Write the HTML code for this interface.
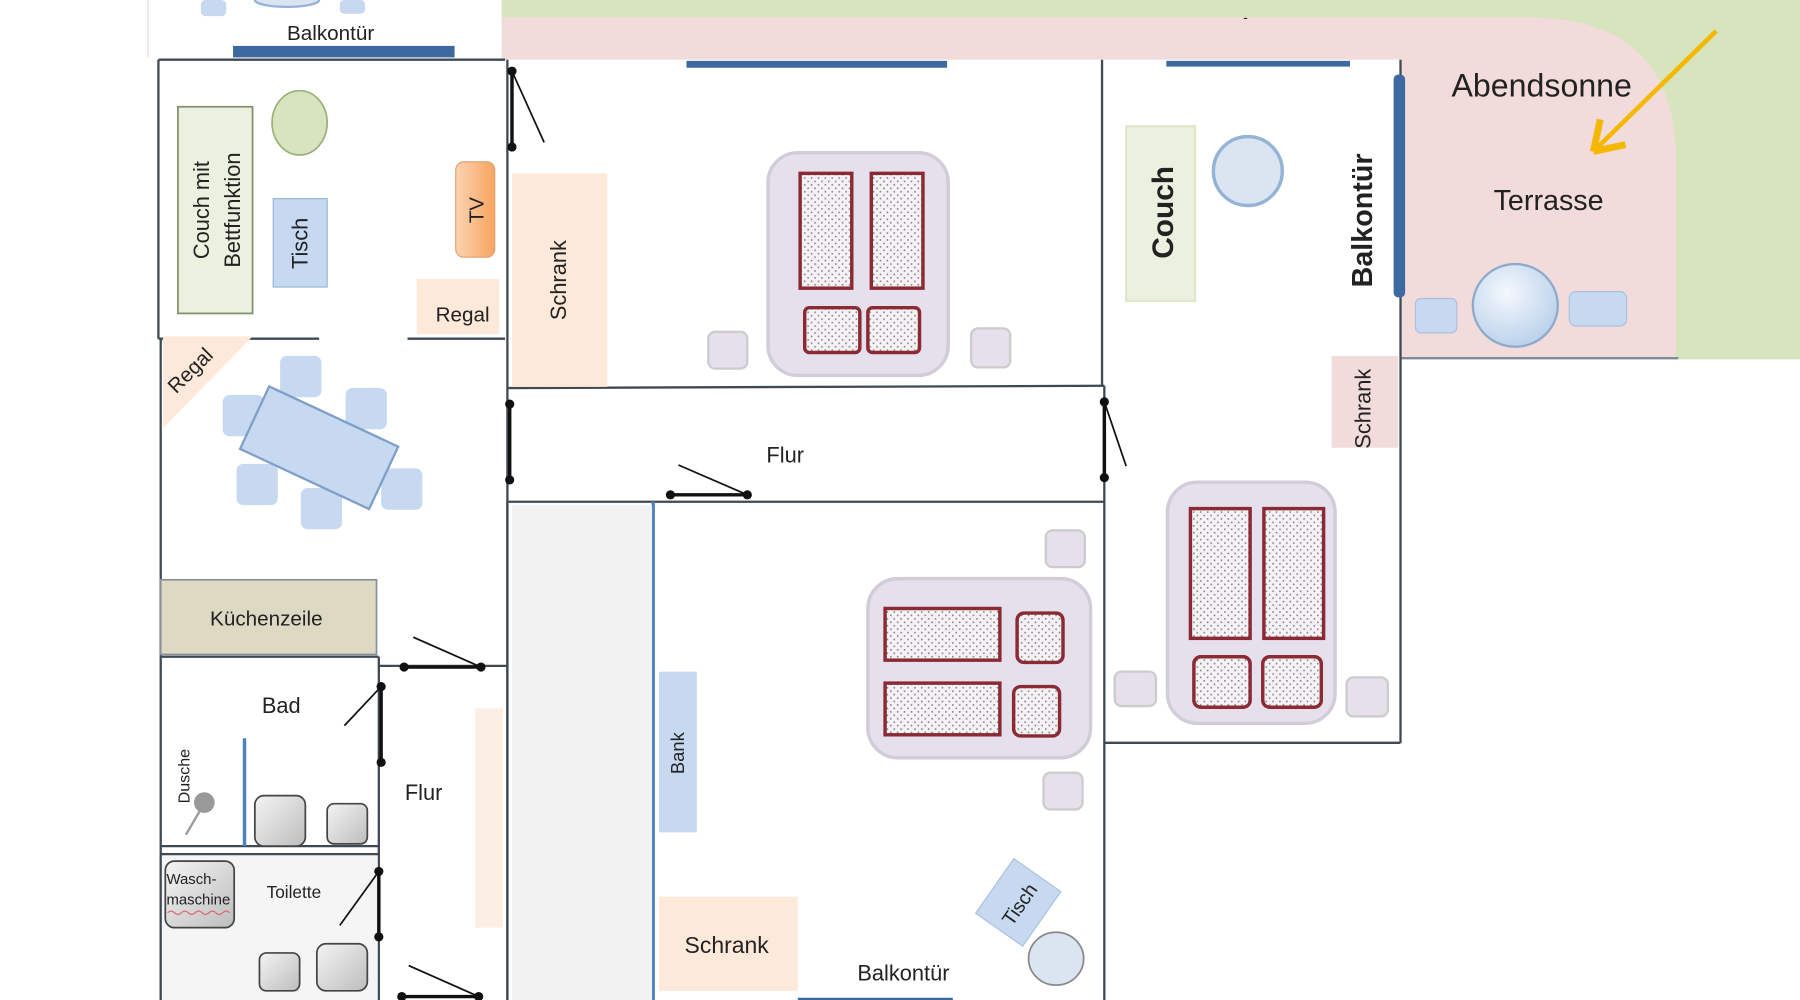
<!DOCTYPE html>
<html><head><meta charset="utf-8"><style>
html,body{margin:0;padding:0;background:#fff;}
svg{display:block;}
text{font-family:"Liberation Sans",sans-serif;fill:#222;}
</style></head><body>
<svg width="1800" height="1000" viewBox="0 0 1568 871" preserveAspectRatio="none" xmlns="http://www.w3.org/2000/svg">
<defs>
<pattern id="dots" width="6" height="6" patternUnits="userSpaceOnUse">
<rect width="6" height="6" fill="#f4f2f4"/><circle cx="2" cy="2" r="0.8" fill="#888"/><circle cx="5" cy="5" r="0.8" fill="#888"/>
</pattern>
<linearGradient id="tv" x1="0" x2="1"><stop offset="0" stop-color="#fbd3b0"/><stop offset="1" stop-color="#f7a460"/></linearGradient>
<radialGradient id="gc" cx="0.4" cy="0.35" r="0.7"><stop offset="0" stop-color="#f4f8fd"/><stop offset="1" stop-color="#b8d0ea"/></radialGradient>
<linearGradient id="gray" x1="0" y1="0" x2="1" y2="1"><stop offset="0" stop-color="#f4f4f4"/><stop offset="1" stop-color="#bdbdbd"/></linearGradient>
</defs>
<rect x="0" y="0" width="1568" height="871" fill="#fff"/>
<!-- garden -->
<rect x="437" y="0" width="1131" height="313" fill="#d7e4bd"/>
<path d="M437,15 H1330 Q1460,15 1460,140 V313 H1220 V52 H437 Z" fill="#f2dcdb"/>
<rect x="435" y="52" width="785" height="290" fill="#fff"/>
<line x1="1220" y1="312" x2="1462" y2="312" stroke="#7f8c99" stroke-width="2"/>
<text x="1083" y="19" font-size="12">-</text>
<!-- top-left snippet -->
<line x1="129" y1="0" x2="129" y2="50" stroke="#ddd" stroke-width="1"/>
<rect x="175" y="0" width="22" height="14" rx="4" fill="#c6d9f1"/>
<rect x="296" y="0" width="22" height="12" rx="4" fill="#c6d9f1"/>
<ellipse cx="250" cy="0" rx="28" ry="6" fill="#dbe5f1" stroke="#95b3d7" stroke-width="2"/>
<text x="288" y="35" font-size="18" text-anchor="middle">Balkontür</text>
<rect x="203" y="40" width="193" height="10" fill="#3c6aa0"/>
<!-- walls -->
<g stroke="#3f4a55" stroke-width="2" fill="none">
<line x1="138" y1="52" x2="440" y2="52"/>
<line x1="138" y1="52" x2="138" y2="295"/>
<line x1="138" y1="295" x2="278" y2="295"/>
<line x1="355" y1="295" x2="440" y2="295"/>
<line x1="140" y1="295" x2="140" y2="871"/>
<line x1="442" y1="52" x2="442" y2="871"/>
<line x1="442" y1="338" x2="962" y2="336"/>
<line x1="443" y1="437" x2="962" y2="437"/>
<line x1="960" y1="52" x2="960" y2="337"/>
<line x1="962" y1="336" x2="962" y2="871"/>
<line x1="1220" y1="52" x2="1220" y2="647"/>
<line x1="962" y1="647" x2="1220" y2="647"/>
<line x1="140" y1="572" x2="330" y2="572"/>
<line x1="140" y1="737" x2="330" y2="737"/>
<line x1="140" y1="744" x2="330" y2="744"/>
<line x1="330" y1="572" x2="330" y2="871"/>
<line x1="330" y1="580" x2="442" y2="580"/>
</g>
<line x1="569" y1="437" x2="569" y2="871" stroke="#4f81bd" stroke-width="3"/>
<rect x="446" y="440" width="122" height="431" fill="#f2f2f2"/>
<line x1="442" y1="437" x2="442" y2="871" stroke="#3f4a55" stroke-width="2"/>
<line x1="140" y1="744" x2="140" y2="871" stroke="#3f4a55" stroke-width="2"/>
<rect x="141" y="745" width="188" height="126" fill="#f5f5f5"/>
<!-- living room -->
<rect x="155" y="93" width="65" height="180" fill="#ebf1de" stroke="#7f8f6a" stroke-width="1.5"/>
<text transform="translate(182,183) rotate(-90)" font-size="19" text-anchor="middle">Couch mit</text>
<text transform="translate(209,183) rotate(-90)" font-size="19" text-anchor="middle">Bettfunktion</text>
<ellipse cx="261" cy="107" rx="24" ry="28" fill="#d7e4bd" stroke="#9bb07a" stroke-width="1.5"/>
<rect x="238" y="173" width="47" height="77" fill="#c6d9f1" stroke="#95b3d7"/>
<text transform="translate(268,212) rotate(-90)" font-size="19" text-anchor="middle">Tisch</text>
<rect x="397" y="141" width="34" height="83" rx="7" fill="url(#tv)" stroke="#e0a070"/>
<text transform="translate(421,183) rotate(-90)" font-size="18" text-anchor="middle">TV</text>
<rect x="363" y="243" width="72" height="48" fill="#fde9d9"/>
<text x="403" y="280" font-size="18" text-anchor="middle">Regal</text>
<path d="M142,293 L220,293 L142,373 Z" fill="#fde9d9"/>
<text transform="translate(170,327) rotate(-45)" font-size="18" text-anchor="middle">Regal</text>
<!-- dining -->
<g fill="#c6d9f1">
<rect x="244" y="310" width="36" height="36" rx="6"/>
<rect x="301" y="338" width="36" height="36" rx="6"/>
<rect x="194" y="344" width="36" height="36" rx="6"/>
<rect x="206" y="404" width="36" height="36" rx="6"/>
<rect x="262" y="425" width="36" height="36" rx="6"/>
<rect x="332" y="408" width="36" height="36" rx="6"/>
</g>
<rect x="216" y="360" width="124" height="60" fill="#c6d9f1" stroke="#7f9fc8" stroke-width="2" transform="rotate(25 278 390)"/>
<!-- kitchen, bath -->
<rect x="140" y="505" width="188" height="65" fill="#ddd9c3" stroke="#8a9099" stroke-width="1.5"/>
<text x="232" y="545" font-size="18" text-anchor="middle">Küchenzeile</text>
<text x="245" y="621" font-size="19" text-anchor="middle">Bad</text>
<line x1="213" y1="643" x2="213" y2="737" stroke="#4f81bd" stroke-width="3"/>
<text transform="translate(165,676) rotate(-90)" font-size="14" text-anchor="middle">Dusche</text>
<circle cx="178" cy="699" r="9" fill="#999"/>
<line x1="176" y1="703" x2="162" y2="727" stroke="#999" stroke-width="2"/>
<rect x="222" y="693" width="44" height="44" rx="8" fill="url(#gray)" stroke="#444" stroke-width="1.5"/>
<rect x="285" y="700" width="35" height="35" rx="6" fill="url(#gray)" stroke="#444" stroke-width="1.5"/>
<rect x="144" y="750" width="60" height="58" rx="8" fill="url(#gray)" stroke="#444" stroke-width="1.5"/>
<text x="145" y="770" font-size="13">Wasch-</text>
<text x="145" y="788" font-size="13">maschine</text>
<path d="M146,795 q3,-3 6,0 t6,0 t6,0 t6,0 t6,0 t6,0 t6,0 t6,0 t6,0" stroke="#e06070" fill="none" stroke-width="1"/>
<text x="256" y="782" font-size="15" text-anchor="middle">Toilette</text>
<rect x="226" y="830" width="35" height="33" rx="6" fill="url(#gray)" stroke="#444" stroke-width="1.5"/>
<rect x="276" y="822" width="44" height="41" rx="8" fill="url(#gray)" stroke="#444" stroke-width="1.5"/>
<text x="369" y="697" font-size="19" text-anchor="middle">Flur</text>
<rect x="414" y="617" width="24" height="191" fill="#fdeee4"/>
<!-- top middle bedroom -->
<rect x="598" y="53" width="227" height="6" fill="#3c6aa0"/>
<rect x="446" y="151" width="83" height="186" fill="#fde9d9"/>
<text transform="translate(493,244) rotate(-90)" font-size="19" text-anchor="middle">Schrank</text>
<rect x="669" y="133" width="157" height="194" rx="26" fill="#e6e0ec" stroke="#d0cdd8" stroke-width="3"/>
<g fill="url(#dots)" stroke="#8b2a35" stroke-width="3">
<rect x="697" y="151" width="45" height="100"/><rect x="759" y="151" width="45" height="100"/>
<rect x="701" y="268" width="48" height="39" rx="4"/><rect x="756" y="268" width="45" height="39" rx="4"/>
</g>
<rect x="617" y="289" width="34" height="32" rx="6" fill="#e6e0ec" stroke="#ccc" stroke-width="2"/>
<rect x="846" y="286" width="34" height="34" rx="6" fill="#e6e0ec" stroke="#ccc" stroke-width="2"/>
<text x="684" y="403" font-size="19" text-anchor="middle">Flur</text>
<!-- right room -->
<rect x="1016" y="53" width="160" height="5" fill="#3c6aa0"/>
<rect x="1214" y="65" width="10" height="194" rx="4" fill="#3c6aa0"/>
<rect x="981" y="110" width="60" height="152" fill="#ebf1de" stroke="#e0e6c8" stroke-width="2"/>
<text transform="translate(1022,185) rotate(-90)" font-size="26" font-weight="bold" text-anchor="middle">Couch</text>
<circle cx="1087" cy="149" r="30" fill="#dbe5f1" stroke="#95b3d7" stroke-width="3"/>
<text transform="translate(1195,192) rotate(-90)" font-size="25" font-weight="bold" text-anchor="middle">Balkontür</text>
<rect x="1160" y="310" width="58" height="80" fill="#f2dcdb"/>
<text transform="translate(1194,356) rotate(-90)" font-size="19" text-anchor="middle">Schrank</text>
<rect x="1017" y="420" width="146" height="210" rx="26" fill="#e6e0ec" stroke="#d0cdd8" stroke-width="3"/>
<g fill="url(#dots)" stroke="#8b2a35" stroke-width="3">
<rect x="1037" y="443" width="52" height="113"/><rect x="1101" y="443" width="52" height="113"/>
<rect x="1040" y="572" width="49" height="44" rx="6"/><rect x="1100" y="572" width="51" height="44" rx="6"/>
</g>
<rect x="971" y="585" width="36" height="30" rx="6" fill="#e6e0ec" stroke="#ccc" stroke-width="2"/>
<rect x="1173" y="590" width="36" height="34" rx="6" fill="#e6e0ec" stroke="#ccc" stroke-width="2"/>
<!-- terrace -->
<rect x="1233" y="260" width="36" height="30" rx="5" fill="#c6d9f1" stroke="#a9c0dc"/>
<rect x="1367" y="254" width="50" height="30" rx="6" fill="#c6d9f1" stroke="#a9c0dc"/>
<ellipse cx="1320" cy="266" rx="37" ry="36" fill="url(#gc)" stroke="#8eaacb" stroke-width="2"/>
<text x="1343" y="84" font-size="28" text-anchor="middle">Abendsonne</text>
<text x="1349" y="183" font-size="25" text-anchor="middle">Terrasse</text>
<line x1="1495" y1="27" x2="1392" y2="128" stroke="#f5b800" stroke-width="4"/>
<path d="M1388,132 L1394,104 M1388,132 L1416,126" stroke="#f5b800" stroke-width="6" fill="none"/>
<!-- bottom middle room -->
<rect x="574" y="585" width="33" height="140" fill="#c6d9f1"/>
<text transform="translate(596,656) rotate(-90)" font-size="16" text-anchor="middle">Bank</text>
<rect x="574" y="781" width="121" height="82" fill="#fde9d9"/>
<text x="633" y="830" font-size="20" text-anchor="middle">Schrank</text>
<text x="787" y="854" font-size="19" text-anchor="middle">Balkontür</text>
<line x1="695" y1="870" x2="830" y2="870" stroke="#3c6aa0" stroke-width="2"/>
<rect x="862" y="757" width="50" height="58" fill="#c6d9f1" stroke="#a9c0dc" transform="rotate(35 887 786)"/>
<text transform="translate(893,791) rotate(-55)" font-size="17" text-anchor="middle">Tisch</text>
<ellipse cx="920" cy="835" rx="24" ry="23" fill="#dbe5f1" stroke="#888" stroke-width="1.5"/>
<rect x="756" y="504" width="194" height="156" rx="26" fill="#e6e0ec" stroke="#d0cdd8" stroke-width="3"/>
<g fill="url(#dots)" stroke="#8b2a35" stroke-width="3">
<rect x="771" y="530" width="100" height="45"/><rect x="771" y="595" width="100" height="45"/>
<rect x="886" y="534" width="40" height="43" rx="6"/><rect x="883" y="598" width="40" height="43" rx="6"/>
</g>
<rect x="911" y="462" width="34" height="32" rx="6" fill="#e6e0ec" stroke="#ccc" stroke-width="2"/>
<rect x="909" y="673" width="34" height="32" rx="6" fill="#e6e0ec" stroke="#ccc" stroke-width="2"/>
<!-- doors -->
<g stroke="#111" stroke-width="3" fill="none">
<line x1="446" y1="62" x2="446" y2="128"/>
<line x1="444" y1="352" x2="444" y2="418"/>
<line x1="962" y1="350" x2="962" y2="416"/>
<line x1="584" y1="431" x2="651" y2="431"/>
<line x1="352" y1="581" x2="419" y2="581"/>
<line x1="332" y1="598" x2="332" y2="664"/>
<line x1="330" y1="759" x2="330" y2="816"/>
<line x1="350" y1="868" x2="417" y2="868"/>
</g>
<g stroke="#111" stroke-width="1.5">
<line x1="446" y1="62" x2="474" y2="124"/>
<line x1="962" y1="350" x2="981" y2="406"/>
<line x1="591" y1="405" x2="651" y2="431"/>
<line x1="360" y1="555" x2="419" y2="581"/>
<line x1="332" y1="598" x2="300" y2="632"/>
<line x1="330" y1="759" x2="296" y2="806"/>
<line x1="356" y1="841" x2="417" y2="868"/>
</g>
<g fill="#111">
<circle cx="446" cy="62" r="4"/><circle cx="446" cy="128" r="4"/>
<circle cx="444" cy="352" r="4"/><circle cx="444" cy="418" r="4"/>
<circle cx="962" cy="350" r="4"/><circle cx="962" cy="416" r="4"/>
<circle cx="584" cy="431" r="4"/><circle cx="651" cy="431" r="4"/>
<circle cx="352" cy="581" r="4"/><circle cx="419" cy="581" r="4"/>
<circle cx="332" cy="598" r="4"/><circle cx="332" cy="664" r="4"/>
<circle cx="330" cy="759" r="4"/><circle cx="330" cy="816" r="4"/>
<circle cx="350" cy="868" r="4"/><circle cx="417" cy="868" r="4"/>
</g>
</svg>
</body></html>
